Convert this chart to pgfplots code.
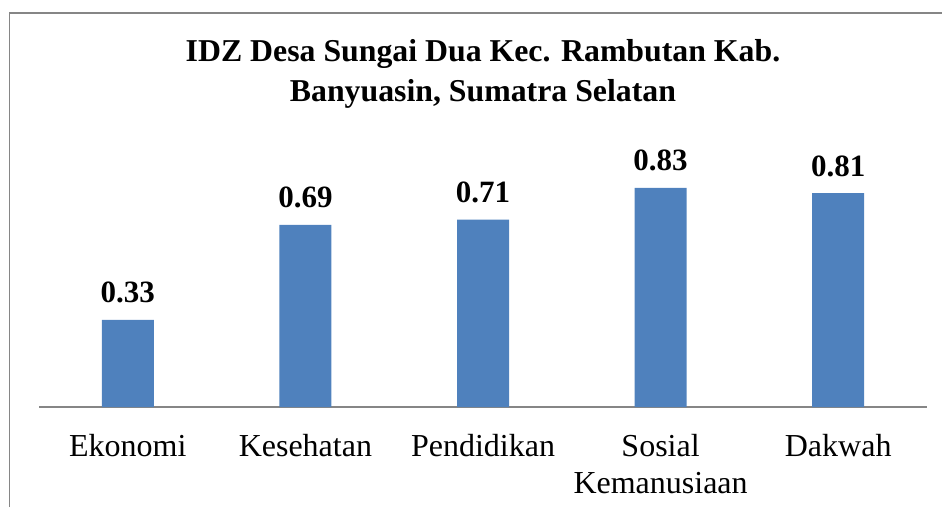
\documentclass[border=0pt]{standalone}
\usepackage{fontspec}
\setmainfont{Liberation Serif}
\usepackage{pgfplots}
\pgfplotsset{compat=1.18}
\definecolor{barblue}{RGB}{79,129,189}
\definecolor{framegray}{RGB}{134,134,134}
\begin{document}
\begin{tikzpicture}
\path[use as bounding box] (0pt,0pt) rectangle (942pt,507pt);
\draw[framegray, line width=1.5pt] (9.5pt,0pt) -- (9.5pt,494pt) -- (942pt,494pt);
\node[anchor=base, align=center, font=\fontsize{31.8}{40}\selectfont\bfseries] at (483pt,405pt)
  {IDZ Desa Sungai Dua Kec. Rambutan Kab.\\Banyuasin, Sumatra Selatan};
\begin{axis}[
  at={(39pt,100pt)}, anchor=south west,
  scale only axis, width=888pt, height=264pt,
  xmin=-0.5, xmax=4.5, ymin=0, ymax=1,
  hide y axis,
  axis x line=bottom,
  axis line style={framegray, line width=1.5pt, -},
  xtick=data,
  xticklabels={Ekonomi,Kesehatan,Pendidikan,Sosial\\Kemanusiaan,Dakwah},
  xtick style={draw=none},
  typeset ticklabels with strut,
  xticklabel style={anchor=north, inner sep=0pt, yshift=-19pt, align=center, font=\fontsize{32}{37}\selectfont},
  ybar, bar width=52pt,
  nodes near coords,
  nodes near coords style={anchor=base, yshift=17pt, font=\fontsize{31}{37}\selectfont\bfseries, /pgf/number format/fixed, /pgf/number format/precision=2, /pgf/number format/fixed zerofill},
  /pgf/number format/assume math mode=true,
]
\addplot[fill=barblue, draw=none] coordinates {(0,0.33) (1,0.69) (2,0.71) (3,0.83) (4,0.81)};
\end{axis}
\end{tikzpicture}
\end{document}
